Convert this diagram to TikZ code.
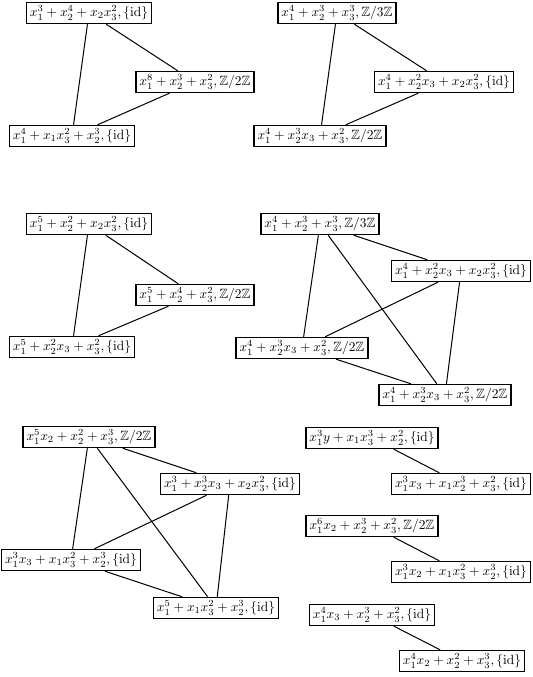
\documentclass[tikz,border=0pt]{standalone}
\usepackage{amssymb}
\tikzset{
  box/.style={draw, line width=0.9pt, fill=white, inner sep=2.6pt},
  edge/.style={line width=0.75pt}
}
\begin{document}
\begin{tikzpicture}[x=0.745pt,y=-0.745pt]
\useasboundingbox (0,0) rectangle (533,677);
% group A
\node[box] (A1) at (89,13) {$x_1^3+x_2^4+x_2x_3^2,\{\mathrm{id}\}$};
\node[box] (A2) at (195,82) {$x_1^8+x_2^3+x_3^2,\mathbb{Z}/2\mathbb{Z}$};
\node[box] (A3) at (72,136) {$x_1^4+x_1x_3^2+x_2^3,\{\mathrm{id}\}$};
% group B
\node[box] (B1) at (337,13) {$x_1^4+x_2^3+x_3^3,\mathbb{Z}/3\mathbb{Z}$};
\node[box] (B2) at (444,82) {$x_1^4+x_2^2x_3+x_2x_3^2,\{\mathrm{id}\}$};
\node[box] (B3) at (320,136) {$x_1^4+x_2^3x_3+x_3^2,\mathbb{Z}/2\mathbb{Z}$};
% group C
\node[box] (C1) at (89,224) {$x_1^5+x_2^2+x_2x_3^2,\{\mathrm{id}\}$};
\node[box] (C2) at (195,295) {$x_1^5+x_2^4+x_3^2,\mathbb{Z}/2\mathbb{Z}$};
\node[box] (C3) at (72,347) {$x_1^5+x_2^2x_3+x_3^2,\{\mathrm{id}\}$};
% group D
\node[box] (D1) at (320,224) {$x_1^4+x_2^3+x_3^3,\mathbb{Z}/3\mathbb{Z}$};
\node[box] (D2) at (461,271) {$x_1^4+x_2^2x_3+x_2x_3^2,\{\mathrm{id}\}$};
\node[box] (D3) at (302,348) {$x_1^4+x_2^3x_3+x_3^2,\mathbb{Z}/2\mathbb{Z}$};
\node[box] (D4) at (445,395) {$x_1^4+x_2^3x_3+x_3^2,\mathbb{Z}/2\mathbb{Z}$};
% group E
\node[box] (E1) at (89,437) {$x_1^5x_2+x_2^2+x_3^3,\mathbb{Z}/2\mathbb{Z}$};
\node[box] (E2) at (230,484) {$x_1^3+x_2^3x_3+x_2x_3^2,\{\mathrm{id}\}$};
\node[box] (E3) at (71,560) {$x_1^3x_3+x_1x_3^2+x_2^3,\{\mathrm{id}\}$};
\node[box] (E4) at (216,608) {$x_1^5+x_1x_3^2+x_2^3,\{\mathrm{id}\}$};
% pairs
\node[box] (F1) at (372,438) {$x_1^3y+x_1x_3^3+x_2^2,\{\mathrm{id}\}$};
\node[box] (F2) at (461,484) {$x_1^3x_3+x_1x_2^3+x_3^2,\{\mathrm{id}\}$};
\node[box] (G1) at (372,526) {$x_1^6x_2+x_2^3+x_3^2,\mathbb{Z}/2\mathbb{Z}$};
\node[box] (G2) at (461,572) {$x_1^3x_2+x_1x_3^2+x_2^3,\{\mathrm{id}\}$};
\node[box] (H1) at (372,615) {$x_1^4x_3+x_2^3+x_3^2,\{\mathrm{id}\}$};
\node[box] (H2) at (462,661) {$x_1^4x_2+x_2^2+x_3^3,\{\mathrm{id}\}$};
% edges
\draw[edge] (A1) -- (A2) (A1) -- (A3) (A2) -- (A3);
\draw[edge] (B1) -- (B2) (B1) -- (B3) (B2) -- (B3);
\draw[edge] (C1) -- (C2) (C1) -- (C3) (C2) -- (C3);
\draw[edge] (D1) -- (D2) (D1) -- (D3) (D1) -- (D4) (D2) -- (D3) (D2) -- (D4) (D3) -- (D4);
\draw[edge] (E1) -- (E2) (E1) -- (E3) (E1) -- (E4) (E2) -- (E3) (E2) -- (E4) (E3) -- (E4);
\draw[edge] (F1) -- (F2) (G1) -- (G2) (H1) -- (H2);
\end{tikzpicture}
\end{document}
